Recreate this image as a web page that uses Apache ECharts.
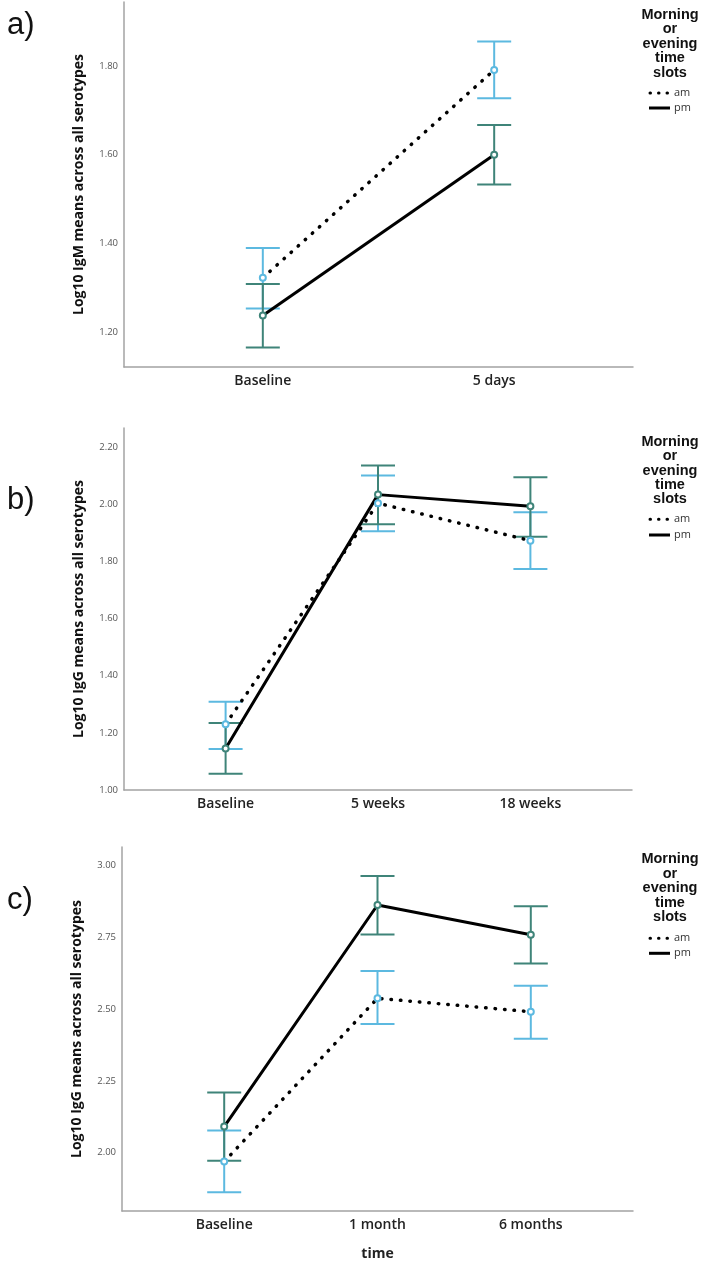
<!DOCTYPE html>
<html>
<head>
<meta charset="utf-8">
<script src="https://cdn.jsdelivr.net/npm/echarts@6/dist/echarts.min.js"></script>
<style>
html,body{margin:0;padding:0;background:#fff;}
#main{width:703px;height:1265px;}
</style>
</head>
<body>
<div id="main"></div>
<script>
// ---- Data ----
const catsA = ['Baseline', '5 days'];
const amA = [1.323, 1.791];
const amA_lo = [1.254, 1.727];
const amA_hi = [1.390, 1.855];
const pmA = [1.238, 1.600];
const pmA_lo = [1.166, 1.533];
const pmA_hi = [1.309, 1.667];
const ticksA = [1.20, 1.40, 1.60, 1.80];

const catsB = ['Baseline', '5 weeks', '18 weeks'];
const amB = [1.230, 2.003, 1.872];
const amB_lo = [1.143, 1.905, 1.773];
const amB_hi = [1.309, 2.100, 1.971];
const pmB = [1.145, 2.033, 1.992];
const pmB_lo = [1.057, 1.929, 1.886];
const pmB_hi = [1.234, 2.135, 2.094];
const ticksB = [1.00, 1.20, 1.40, 1.60, 1.80, 2.00, 2.20];

const catsC = ['Baseline', '1 month', '6 months'];
const amC = [1.969, 2.538, 2.491];
const amC_lo = [1.862, 2.448, 2.397];
const amC_hi = [2.077, 2.633, 2.582];
const pmC = [2.091, 2.863, 2.759];
const pmC_lo = [1.972, 2.760, 2.659];
const pmC_hi = [2.210, 2.964, 2.859];
const ticksC = [2.00, 2.25, 2.50, 2.75, 3.00];

const yTitles = ['Log10 IgM means across all serotypes', 'Log10 IgG means across all serotypes', 'Log10 IgG means across all serotypes'];
const panelLabels = ['a)', 'b)', 'c)'];
const legendTitle = 'Morning\nor\nevening\ntime\nslots';
const seriesNames = ['am', 'pm'];
const xTitleC = 'time';

// ---- Styles ----
const BLUE = '#5cb9e0';
const TEAL = '#3f8479';
const AXIS = '#a3a3a3';
const FONT = "'Open Sans', 'Liberation Sans', sans-serif";

const panels = [
  {cats: catsA, am: amA, amLo: amA_lo, amHi: amA_hi, pm: pmA, pmLo: pmA_lo, pmHi: pmA_hi, ticks: ticksA,
   grid: {left: 124, top: 2, width: 509, height: 365}, yMin: 1.122, yMax: 1.944, xMin: -0.6, xMax: 1.6, xName: ''},
  {cats: catsB, am: amB, amLo: amB_lo, amHi: amB_hi, pm: pmB, pmLo: pmB_lo, pmHi: pmB_hi, ticks: ticksB,
   grid: {left: 124, top: 428, width: 508, height: 362}, yMin: 1.0, yMax: 2.266, xMin: -2/3, xMax: 8/3, xName: ''},
  {cats: catsC, am: amC, amLo: amC_lo, amHi: amC_hi, pm: pmC, pmLo: pmC_lo, pmHi: pmC_hi, ticks: ticksC,
   grid: {left: 122, top: 847, width: 511, height: 364}, yMin: 1.797, yMax: 3.065, xMin: -2/3, xMax: 8/3, xName: xTitleC}
];

const grids = [], xAxes = [], yAxes = [], series = [], graphics = [];

function errRender(color) {
  return function (params, api) {
    const x = api.value(0), lo = api.value(1), hi = api.value(2);
    const pLo = api.coord([x, lo]);
    const pHi = api.coord([x, hi]);
    const hw = 17;
    const st = {stroke: color, lineWidth: 2};
    return {
      type: 'group',
      children: [
        {type: 'line', shape: {x1: pLo[0], y1: pLo[1], x2: pHi[0], y2: pHi[1]}, style: st},
        {type: 'line', shape: {x1: pLo[0] - hw, y1: pLo[1], x2: pLo[0] + hw, y2: pLo[1]}, style: st},
        {type: 'line', shape: {x1: pHi[0] - hw, y1: pHi[1], x2: pHi[0] + hw, y2: pHi[1]}, style: st}
      ]
    };
  };
}

const legendTop = [{title: 15, am: 93, pm: 108}, {title: 441.7, am: 519.3, pm: 535}, {title: 859.3, am: 938.3, pm: 953.3}];
const panelLabelY = [25, 500, 900];

panels.forEach((p, i) => {
  grids.push(Object.assign({containLabel: false}, p.grid));
  const cats = p.cats;
  xAxes.push({
    type: 'value', gridIndex: i, min: p.xMin, max: p.xMax,
    axisLine: {show: true, onZero: false, lineStyle: {color: AXIS, width: 1.5}},
    axisTick: {show: false},
    splitLine: {show: false},
    axisLabel: {
      customValues: cats.map((c, k) => k),
      formatter: v => cats[Math.round(v)] || '',
      margin: 7, fontFamily: FONT, fontSize: 14, fontWeight: 600, color: '#222'
    },
    name: p.xName, nameLocation: 'middle', nameGap: 36,
    nameTextStyle: {fontFamily: FONT, fontSize: 14, fontWeight: 'bold', color: '#222'}
  });
  yAxes.push({
    type: 'value', gridIndex: i, min: p.yMin, max: p.yMax,
    axisLine: {show: true, onZero: false, lineStyle: {color: AXIS, width: 1.5}},
    axisTick: {show: false},
    splitLine: {show: false},
    axisLabel: {
      customValues: p.ticks,
      formatter: v => v.toFixed(2),
      margin: 6, fontFamily: FONT, fontSize: 9.5, color: '#555'
    },
    name: yTitles[i], nameLocation: 'middle', nameGap: 38, nameRotate: 90,
    nameTextStyle: {fontFamily: FONT, fontSize: 14, fontWeight: 'bold', color: '#111'}
  });

  const groups = [
    {name: seriesNames[0], mean: p.am, lo: p.amLo, hi: p.amHi, color: BLUE, dotted: true},
    {name: seriesNames[1], mean: p.pm, lo: p.pmLo, hi: p.pmHi, color: TEAL, dotted: false}
  ];
  groups.forEach(g => {
    series.push({
      type: 'custom', name: g.name + '-err', xAxisIndex: i, yAxisIndex: i, z: 2,
      renderItem: errRender(g.color),
      encode: {x: 0, y: [1, 2]},
      data: g.mean.map((m, k) => [k, g.lo[k], g.hi[k]]),
      silent: true, animation: false
    });
  });
  groups.forEach(g => {
    series.push({
      type: 'line', name: g.name, xAxisIndex: i, yAxisIndex: i, z: 3,
      data: g.mean.map((m, k) => [k, m]),
      symbol: 'emptyCircle', symbolSize: 6,
      itemStyle: {color: g.color, borderWidth: 1.2},
      lineStyle: g.dotted ? {color: '#000', width: 3.5, type: [0.5, 9], cap: 'round'}
                          : {color: '#000', width: 3},
      animation: false, silent: true
    });
  });

  // Panel label
  graphics.push({type: 'text', x: 7, y: panelLabelY[i],
    style: {text: panelLabels[i], font: "31px 'Liberation Sans', sans-serif", fill: '#111', verticalAlign: 'middle'}});
  // Legend
  const L = legendTop[i];
  graphics.push({type: 'text', x: 670, y: L.title - 7.2,
    style: {text: legendTitle, font: "bold 14.5px 'Liberation Sans', sans-serif", fill: '#111',
            align: 'center', verticalAlign: 'top', lineHeight: 14.4}});
  graphics.push({type: 'line', shape: {x1: 650, y1: L.am, x2: 668, y2: L.am},
    style: {stroke: '#000', lineWidth: 3, lineDash: [0.5, 8], lineCap: 'round'}});
  graphics.push({type: 'text', x: 674, y: L.am,
    style: {text: seriesNames[0], font: "11px 'Open Sans', sans-serif", fill: '#333', verticalAlign: 'middle'}});
  graphics.push({type: 'line', shape: {x1: 649, y1: L.pm, x2: 670, y2: L.pm},
    style: {stroke: '#000', lineWidth: 3}});
  graphics.push({type: 'text', x: 674, y: L.pm,
    style: {text: seriesNames[1], font: "11px 'Open Sans', sans-serif", fill: '#333', verticalAlign: 'middle'}});
});

const chart = echarts.init(document.getElementById('main'), null, {renderer: 'canvas'});
chart.setOption({
  backgroundColor: '#fff',
  animation: false,
  grid: grids,
  xAxis: xAxes,
  yAxis: yAxes,
  series: series,
  graphic: graphics
});
</script>
</body>
</html>
